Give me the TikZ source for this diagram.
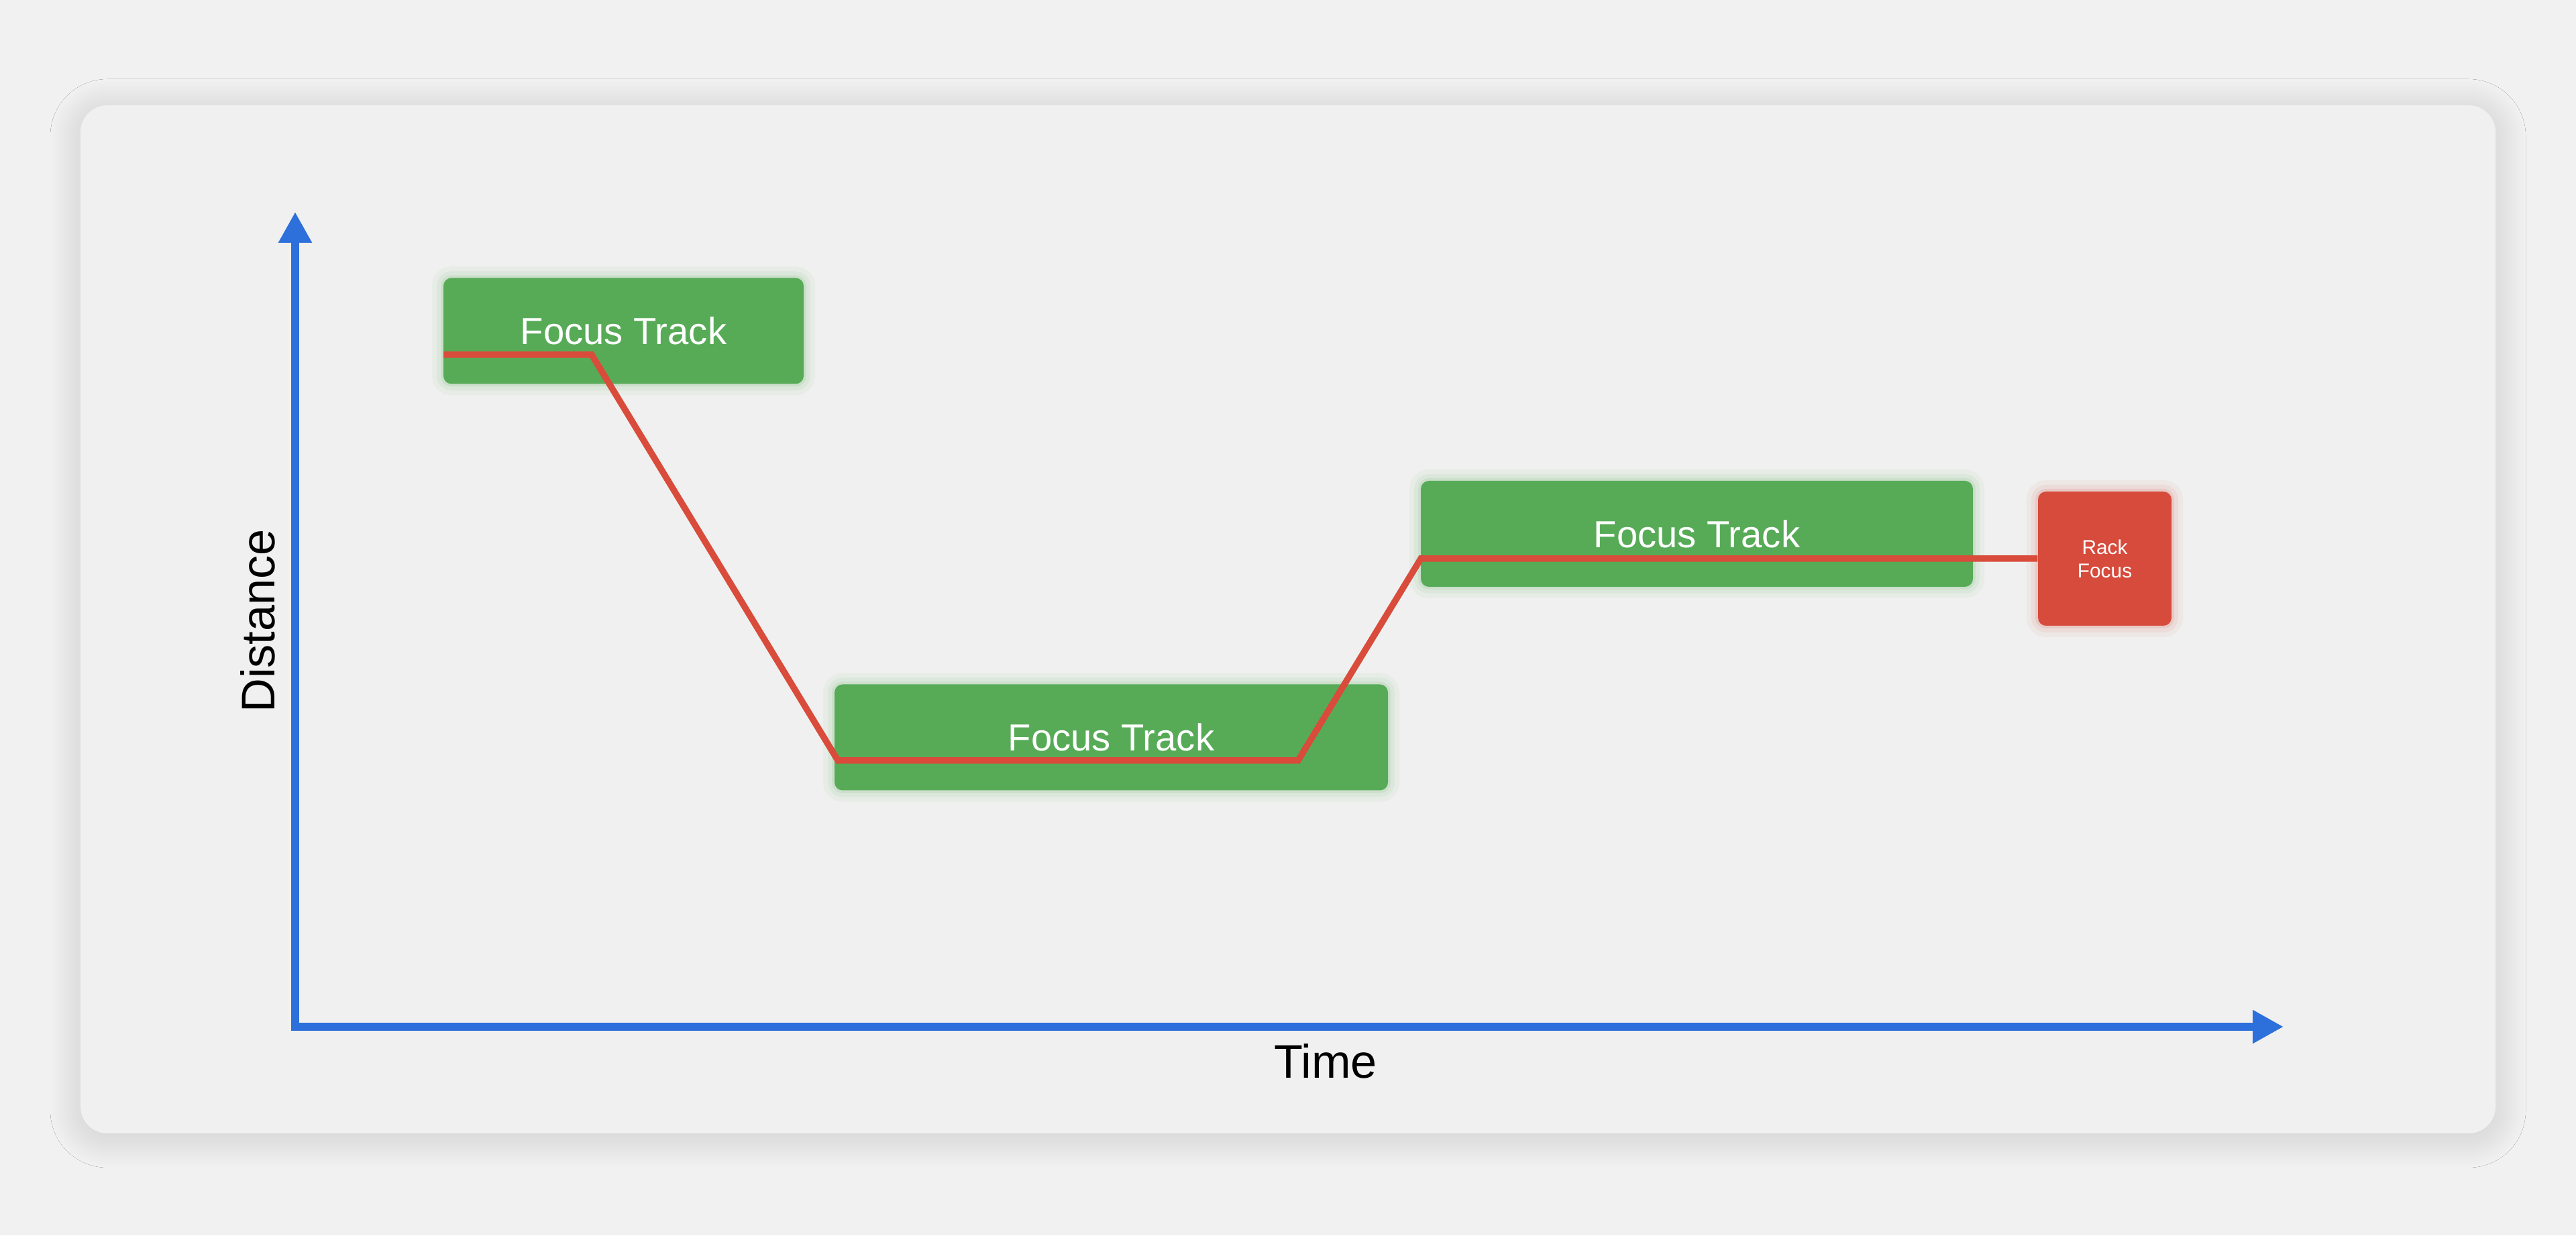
\documentclass[tikz,border=0pt]{standalone}
\usepackage{fontspec}
\setmainfont{Liberation Sans}
\usetikzlibrary{arrows.meta,shadows.blur}
\definecolor{bgcol}{HTML}{F0F1F0}
\definecolor{cardcol}{HTML}{EFF0EF}
\definecolor{trackgreen}{HTML}{57AB57}
\definecolor{rackred}{HTML}{D64B3C}
\definecolor{axisblue}{HTML}{2D6FDB}
\definecolor{linered}{HTML}{D94B3A}
\begin{document}
\begin{tikzpicture}[
    glow/.style={preaction={draw=#1, line width=0.34cm, opacity=0.05},
                 preaction={draw=#1, line width=0.2cm, opacity=0.07},
                 preaction={draw=#1, line width=0.08cm, opacity=0.12}},
    track/.style={rectangle, rounded corners=0.12cm, fill=trackgreen, text=white, glow=trackgreen,
                  minimum height=1.58cm, inner sep=0pt, font=\fontsize{16}{19}\selectfont},
    rackbox/.style={rectangle, rounded corners=0.12cm, fill=rackred, text=white, glow=rackred,
                    minimum width=1.99cm, minimum height=2cm, inner sep=0pt, align=center,
                    font=\fontsize{8.5}{10}\selectfont},
    axis/.style={-{Triangle[width=0.47cm, length=0.46cm]}, axisblue, line width=0.12cm, line cap=rect},
    axislabel/.style={font=\fontsize{20}{24}\selectfont, text=black},
    focusline/.style={linered, line width=0.095cm}
]
    % Background and card
    \fill[bgcol] (0,0) rectangle (38.4,18.42);
    \useasboundingbox (0,0) rectangle (38.4,18.42);
    \fill[cardcol, rounded corners=0.4cm,
          blur shadow={shadow xshift=0pt, shadow yshift=-0.06cm, shadow blur radius=0.45cm,
                       shadow blur steps=30, shadow opacity=16}]
        (1.20,1.52) rectangle (37.20,16.85);

    % Axes
    \coordinate (origin) at (4.40,3.11);
    \coordinate (ytip) at (4.40,15.26);
    \coordinate (xtip) at (34.04,3.11);
    \draw[axis] (origin) -- (ytip);
    \draw[axis] (origin) -- (xtip);
    \node[axislabel, rotate=90] (distlabel) at (3.84,9.16) {Distance};
    \node[axislabel] (timelabel) at (19.76,2.60) {Time};

    % Focus tracks
    \node[track, minimum width=5.37cm] (track1) at (9.295,13.485) {Focus Track};
    \node[track, minimum width=8.25cm] (track2) at (16.565,7.425) {Focus Track};
    \node[track, minimum width=8.23cm] (track3) at (25.295,10.46) {Focus Track};

    % Rack focus
    \node[rackbox] (rack) at (31.375,10.09) {Rack\\Focus};

    % Focus distance
    \coordinate (p0) at (6.61,13.13);
    \coordinate (p1) at (8.82,13.13);
    \coordinate (p2) at (12.49,7.08);
    \coordinate (p3) at (19.35,7.08);
    \coordinate (p4) at (21.18,10.09);
    \draw[focusline] (p0) -- (p1) -- (p2) -- (p3) -- (p4) -- (rack.west);
\end{tikzpicture}
\end{document}
